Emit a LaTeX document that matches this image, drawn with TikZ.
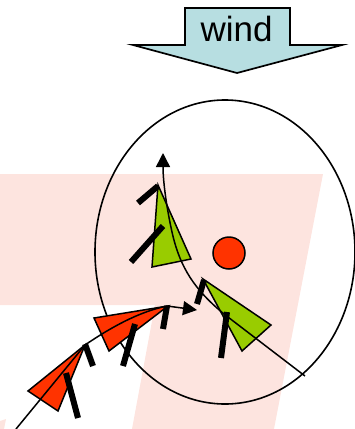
\documentclass[tikz,border=0pt]{standalone}
\usepackage{fontspec}
\setmainfont{Liberation Sans}
\usetikzlibrary{arrows.meta}
\definecolor{pinkbg}{RGB}{253,228,223}
\definecolor{windblue}{RGB}{183,222,225}
\definecolor{boatred}{RGB}{255,51,0}
\definecolor{boatgreen}{RGB}{153,204,0}
\begin{document}
\begin{tikzpicture}[x=1pt,y=-1pt,
  hull/.style={draw=black,line width=1.5pt,line join=miter},
  sail/.style={draw=black,line width=6pt,line cap=butt},
  track/.style={draw=black,line width=1.5pt},
  tipped/.style={-{Triangle[length=14pt,width=14pt]}}]
\useasboundingbox (0,0) rectangle (354,429);
% background
\fill[pinkbg] (0,174) -- (323,174) -- (274,429) -- (132,429) -- (155,305) -- (0,305) -- cycle;
\fill[pinkbg] (0,421) -- (6,419) -- (4,429) -- (0,429) -- cycle;
% wind arrow
\draw[line width=1.7pt, fill=windblue, line join=miter] (185,8) -- (290,8) -- (290,45) -- (342,45) -- (237,73) -- (133,45) -- (185,45) -- cycle;
\node[font=\fontsize{35}{40}\selectfont, anchor=base, inner sep=0pt] (wind) at (236.5,41.5) {wind};
% zone
\draw[line width=1.6pt] (225,252) ellipse [x radius=130pt, y radius=152pt];
\filldraw[fill=boatred, draw=black, line width=1.5pt] (229,253) circle [radius=16pt];
% hulls
\filldraw[hull, fill=boatgreen] (158,185) -- (152,267) -- (191,259) -- cycle;
\filldraw[hull, fill=boatgreen] (203,279) -- (271,325) -- (242,351) -- cycle;
\filldraw[hull, fill=boatred] (94,318) -- (168,306) -- (109,351) -- cycle;
\filldraw[hull, fill=boatred] (28,391) -- (85,345) -- (58,411) -- cycle;
% tracks
\coordinate (s1) at (16,429);
\coordinate (r2) at (85,345);
\coordinate (r1) at (167,306);
\coordinate (e1) at (197,310);
\draw[track, tipped] (s1) -- (r2) .. controls (110,328) and (138,312) .. (r1) -- (e1);
\coordinate (s2) at (305,376);
\coordinate (g2) at (224,314);
\coordinate (g1) at (172,232);
\coordinate (e2) at (163,153);
\draw[track, tipped] (s2) -- (g2) .. controls (195,290) and (180,268) .. (g1) .. controls (166,205) and (163,180) .. (e2);
% sails
\draw[sail] (138,203) -- (158,186);
\draw[sail] (131,262) -- (163,226);
\draw[sail] (197,304) -- (204,280);
\draw[sail] (221,358) -- (227,312);
\draw[sail] (163,329) -- (167,306);
\draw[sail] (123,366) -- (135,324);
\draw[sail] (85,344) -- (93,366);
\draw[sail] (66,373) -- (78,418);
\end{tikzpicture}
\end{document}
